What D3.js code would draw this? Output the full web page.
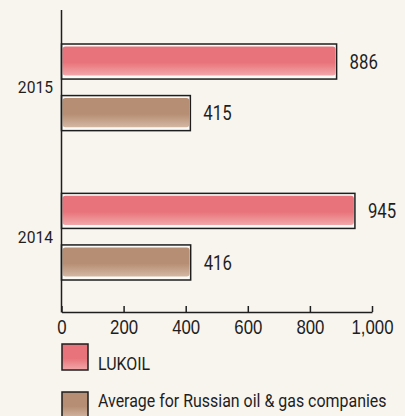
<!DOCTYPE html>
<html>
<head>
<meta charset="utf-8">
<script src="https://cdn.jsdelivr.net/npm/d3@7"></script>
<style>
  body { margin: 0; background: #f8f5ef; }
  svg { display: block; font-family: Roboto, "DejaVu Sans", sans-serif; }
</style>
</head>
<body>
<svg id="chart"></svg>
<script>
const years = ['2015', '2014']
const seriesNames = ['LUKOIL', 'Average for Russian oil & gas companies']
const lukoilValues = [886, 945]
const averageValues = [415, 416]
const xTicks = [0, 200, 400, 600, 800, 1000]

const width = 405
const height = 416
const margin = {top: 10, right: 33, bottom: 104, left: 61.5}
const squeeze = 0.84 // fake a condensed face
const ink = '#1e1e1e'
const colors = {
  LUKOIL: ['#e8737a', '#f2a8ab'],
  'Average for Russian oil & gas companies': ['#b68e73', '#d3b7a3']
}

const svg = d3.select('#chart')
  .attr('width', width)
  .attr('height', height)

svg.append('rect').attr('width', width).attr('height', height).attr('fill', '#f8f5ef')

// gradients to fake the brushy fill
const defs = svg.append('defs')
seriesNames.forEach((name, i) => {
  const g = defs.append('linearGradient')
    .attr('id', 'grad' + i)
    .attr('x1', 0).attr('y1', 0).attr('x2', 0).attr('y2', 1)
  g.append('stop').attr('offset', '0%').attr('stop-color', colors[name][0])
  g.append('stop').attr('offset', '55%').attr('stop-color', colors[name][0])
  g.append('stop').attr('offset', '100%').attr('stop-color', colors[name][1])
})

const x = d3.scaleLinear()
  .domain([0, 1000])
  .range([margin.left, 372])

const y0 = d3.scaleBand()
  .domain(years)
  .range([44, 280])
  .paddingInner(0.42)

const y1 = d3.scaleBand()
  .domain(seriesNames)
  .range([0, y0.bandwidth()])
  .paddingInner(0.32)

const data = years.map((year, i) => ({
  year,
  values: [
    {name: seriesNames[0], value: lukoilValues[i]},
    {name: seriesNames[1], value: averageValues[i]}
  ]
}))

const groups = svg.selectAll('g.year')
  .data(data)
  .enter()
  .append('g')
  .attr('class', 'year')
  .attr('transform', d => `translate(0,${y0(d.year)})`)

const bars = groups.selectAll('g.bar')
  .data(d => d.values)
  .enter()
  .append('g')

bars.append('rect')
  .attr('x', x(0))
  .attr('y', d => y1(d.name))
  .attr('width', d => x(d.value) - x(0))
  .attr('height', y1.bandwidth())
  .attr('fill', '#fbfaf7')
  .attr('stroke', ink)
  .attr('stroke-width', 1.5)

bars.append('rect')
  .attr('x', x(0) + 1)
  .attr('y', d => y1(d.name) + 2.5)
  .attr('width', d => x(d.value) - x(0) - 2)
  .attr('height', y1.bandwidth() - 6)
  .attr('rx', 3)
  .attr('fill', d => 'url(#grad' + seriesNames.indexOf(d.name) + ')')

bars.append('text')
  .attr('transform', d => `translate(${x(d.value) + 13},${y1(d.name) + y1.bandwidth() / 2}) scale(${squeeze},1)`)
  .attr('dy', '0.36em')
  .style('font-size', '20px')
  .style('fill', ink)
  .text(d => d.value)

// year labels sit between the two bars
groups.append('text')
  .attr('transform', `translate(53,${y0.bandwidth() / 2}) scale(0.92,1)`)
  .attr('dy', '0.36em')
  .attr('text-anchor', 'end')
  .style('font-size', '17px')
  .style('fill', ink)
  .text(d => d.year)

// axes
svg.append('line')
  .attr('x1', x(0)).attr('x2', x(0))
  .attr('y1', margin.top).attr('y2', height - margin.bottom + 0.5)
  .attr('stroke', ink).attr('stroke-width', 1.5)

const xAxis = svg.append('g')
  .attr('transform', `translate(0,${height - margin.bottom})`)
  .call(d3.axisBottom(x).tickValues(xTicks).tickSizeInner(-6).tickSizeOuter(0).tickPadding(8).tickFormat(d3.format(',')))
xAxis.select('.domain').attr('stroke', ink).attr('stroke-width', 1.5)
xAxis.selectAll('.tick line').attr('stroke', ink).attr('stroke-width', 1.5)
xAxis.selectAll('.tick text')
  .attr('transform', `scale(${squeeze},1)`)
  .attr('font-family', null)
  .attr('font-size', null)
  .style('font-size', '20px')
  .style('fill', ink)

// legend
const legend = svg.selectAll('g.legend')
  .data(seriesNames)
  .enter()
  .append('g')
  .attr('transform', (d, i) => `translate(62,${344 + i * 48})`)

legend.append('rect')
  .attr('width', 26).attr('height', 26)
  .attr('fill', (d, i) => 'url(#grad' + i + ')')
  .attr('stroke', ink).attr('stroke-width', 1.5)

legend.append('text')
  .attr('transform', (d, i) => `translate(36,${i === 0 ? 19 : 8}) scale(${squeeze},1)`)
  .attr('dy', '0.36em')
  .style('font-size', '19px')
  .style('fill', ink)
  .text(d => d)
</script>
</body>
</html>
